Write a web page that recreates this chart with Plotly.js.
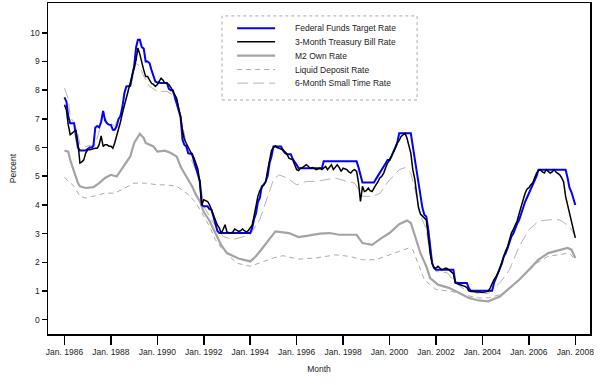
<!DOCTYPE html>
<html>
<head>
<meta charset="utf-8">
<script src="https://cdn.plot.ly/plotly-3.0.1.min.js"></script>
<style>html,body{margin:0;padding:0;background:#fff;}#chart{width:600px;height:385px;}</style>
</head>
<body>
<div id="chart"></div>
<script>
// ---------- DATA ----------
const seriesNames = ["Federal Funds Target Rate", "3-Month Treasury Bill Rate", "M2 Own Rate", "Liquid Deposit Rate", "6-Month Small Time Rate"];

// monthly, Jan 1986 .. Jan 2008
const monthlyStart = "1986-01";
const fedFunds = [
 7.75,7.6,7.1,6.85,6.85,6.85,6.4,6.0,5.9,5.9,5.9,5.9,
 5.95,6.0,6.0,6.05,6.7,6.75,6.7,6.9,7.28,6.95,6.85,6.8,
 6.79,6.62,6.62,6.74,7.0,7.1,7.43,7.9,8.13,8.15,8.15,8.5,
 8.83,9.5,9.76,9.76,9.5,9.45,9.0,9.0,8.94,8.7,8.48,8.3,
 8.27,8.25,8.25,8.25,8.25,8.25,8.05,8.0,8.0,7.8,7.55,7.3,
 7.08,6.27,6.1,6.04,5.8,5.78,5.78,5.52,5.3,5.1,4.82,4.0,
 3.95,3.95,3.95,3.85,3.83,3.6,3.3,3.1,3.02,3.02,3.02,3.02,
 3.02,3.02,3.02,3.02,3.02,3.02,3.02,3.02,3.02,3.02,3.02,3.02,
 3.02,3.2,3.5,3.7,4.1,4.24,4.65,4.7,4.82,5.0,5.46,5.69,
 6.04,6.04,6.04,6.04,6.04,5.9,5.81,5.77,5.77,5.77,5.6,5.52,
 5.4,5.28,5.28,5.28,5.28,5.28,5.28,5.28,5.28,5.28,5.28,5.28,
 5.28,5.28,5.52,5.52,5.52,5.52,5.52,5.52,5.52,5.52,5.52,5.52,
 5.52,5.52,5.52,5.52,5.52,5.52,5.52,5.52,5.3,4.99,4.78,4.78,
 4.78,4.78,4.78,4.78,4.78,4.9,5.0,5.11,5.25,5.34,5.45,5.57,
 5.57,5.7,5.86,6.0,6.16,6.5,6.5,6.5,6.5,6.5,6.5,6.5,
 6.04,5.6,5.05,4.6,4.3,3.9,3.66,3.6,3.14,2.44,1.97,1.8,
 1.74,1.74,1.74,1.74,1.74,1.74,1.74,1.74,1.74,1.74,1.3,1.28,
 1.28,1.28,1.28,1.28,1.28,1.1,1.01,1.01,1.01,1.01,1.01,1.01,
 1.01,1.01,1.01,1.01,1.01,1.01,1.28,1.45,1.6,1.75,1.95,2.2,
 2.32,2.5,2.7,2.9,3.0,3.2,3.35,3.48,3.7,3.85,4.1,4.25,
 4.4,4.55,4.65,4.8,5.0,5.23,5.23,5.23,5.23,5.23,5.23,5.23,
 5.23,5.23,5.23,5.23,5.23,5.23,5.23,5.23,4.95,4.6,4.45,4.25,
 4.0
];
const tBill = [
 7.49,7.3,6.8,6.45,6.5,6.55,6.62,6.16,5.46,5.5,5.57,5.81,
 5.92,5.92,5.95,5.96,5.98,5.98,6.1,6.41,6.04,6.1,6.1,6.05,
 6.05,5.98,6.16,6.4,6.62,6.9,7.2,7.5,7.78,8.0,8.25,8.48,
 8.8,9.06,9.47,9.25,8.94,8.7,8.48,8.48,8.35,8.24,8.2,8.13,
 8.2,8.3,8.42,8.35,8.24,8.24,8.2,8.1,7.95,7.85,7.72,7.4,
 7.08,6.6,6.3,6.15,6.0,5.86,5.75,5.63,5.4,5.25,4.76,4.0,
 4.18,4.15,4.12,4.0,3.83,3.65,3.48,3.3,3.2,3.0,3.15,3.31,
 3.05,3.02,3.02,3.05,3.16,3.12,3.08,3.1,3.16,3.1,3.06,3.1,
 3.2,3.3,3.6,4.0,4.3,4.5,4.6,4.7,4.8,5.2,5.6,5.9,
 6.0,6.06,6.0,5.98,5.94,5.92,5.85,5.78,5.63,5.6,5.57,5.4,
 5.23,5.2,5.28,5.3,5.34,5.4,5.35,5.28,5.3,5.28,5.23,5.25,
 5.28,5.23,5.3,5.34,5.23,5.3,5.4,5.23,5.3,5.4,5.3,5.17,
 5.28,5.25,5.23,5.15,5.11,5.2,5.23,5.17,4.76,4.12,4.65,4.47,
 4.5,4.59,4.5,4.47,4.6,4.7,4.8,4.94,5.0,5.11,5.3,5.46,
 5.55,5.69,5.85,5.98,6.16,6.25,6.39,6.45,6.5,6.33,6.0,5.8,
 5.23,4.9,4.4,3.9,3.68,3.6,3.55,3.48,2.9,2.3,1.97,1.8,
 1.8,1.86,1.8,1.74,1.76,1.8,1.78,1.72,1.68,1.6,1.28,1.25,
 1.22,1.2,1.18,1.16,1.12,1.0,0.98,0.99,0.97,0.96,0.96,0.95,
 0.95,0.96,0.97,0.99,1.1,1.28,1.4,1.5,1.62,1.8,2.03,2.2,
 2.4,2.55,2.8,3.02,3.15,3.3,3.45,3.7,3.95,4.2,4.4,4.55,
 4.6,4.7,4.76,4.95,5.11,5.2,5.23,5.15,5.11,5.23,5.15,5.11,
 5.15,5.23,5.15,5.1,5.05,4.94,4.8,4.3,4.0,3.73,3.4,3.1,
 2.85
];

const m2Dates = ["1986-01","1986-03","1986-04","1986-06","1986-08","1986-09","1986-12","1987-04","1987-07","1987-10","1988-01","1988-04","1988-07","1988-11","1989-01","1989-04","1989-06","1989-07","1989-11","1990-01","1990-05","1990-08","1990-11","1991-01","1991-04","1991-07","1991-09","1991-11","1992-01","1992-04","1992-07","1992-10","1993-01","1993-03","1993-07","1994-01","1994-04","1994-08","1995-02","1995-09","1996-02","1996-07","1997-01","1997-06","1997-11","1998-04","1998-08","1998-11","1999-04","1999-09","2000-01","2000-06","2000-10","2000-12","2001-03","2001-05","2001-08","2001-10","2002-02","2002-08","2003-01","2003-06","2003-11","2004-04","2004-10","2005-03","2005-08","2006-01","2006-06","2006-11","2007-05","2007-09","2007-11","2008-01"];
const m2Own = [5.9,5.86,5.57,5.2,4.76,4.65,4.59,4.62,4.76,4.94,5.05,4.99,5.28,5.69,6.16,6.48,6.33,6.16,6.04,5.86,5.89,5.81,5.69,5.34,4.99,4.65,4.35,4.12,3.75,3.45,3.02,2.6,2.32,2.25,2.13,2.03,2.21,2.55,3.08,3.02,2.88,2.93,3.0,3.02,2.96,2.96,2.96,2.67,2.61,2.85,3.02,3.33,3.46,3.37,2.79,2.32,1.86,1.45,1.22,1.1,0.93,0.76,0.67,0.64,0.81,1.1,1.39,1.74,2.09,2.32,2.44,2.5,2.44,2.15];

const liqDates = ["1986-01","1986-06","1986-09","1986-12","1987-05","1987-10","1988-03","1988-08","1989-01","1989-07","1990-01","1990-06","1990-11","1991-03","1991-06","1991-09","1992-01","1992-04","1992-07","1992-10","1993-01","1993-06","1994-01","1994-06","1995-01","1995-06","1996-02","1996-11","1997-09","1998-04","1998-11","1999-06","2000-01","2000-08","2000-11","2001-01","2001-04","2001-07","2002-01","2002-09","2003-03","2003-11","2004-04","2004-10","2005-03","2005-10","2006-05","2006-11","2007-05","2007-10","2008-01"];
const liquidDeposit = [4.96,4.65,4.3,4.24,4.32,4.41,4.41,4.59,4.76,4.76,4.7,4.7,4.65,4.47,4.3,4.07,3.6,3.25,2.79,2.5,2.3,1.97,1.86,1.97,2.15,2.23,2.11,2.15,2.26,2.21,2.09,2.09,2.26,2.45,2.5,2.44,1.9,1.39,1.05,0.99,0.87,0.76,0.76,0.87,1.05,1.51,1.97,2.21,2.26,2.32,2.09];

const stDates = ["1986-01","1986-03","1986-04","1986-06","1986-08","1986-09","1986-12","1987-05","1987-08","1987-09","1987-10","1988-03","1988-07","1988-11","1989-02","1989-04","1989-06","1989-09","1990-01","1990-06","1990-09","1991-01","1991-04","1991-07","1991-11","1992-01","1992-06","1992-11","1993-04","1993-07","1994-01","1994-06","1994-09","1995-01","1995-04","1995-08","1996-01","1996-06","1996-11","1997-04","1997-09","1998-03","1998-07","1998-11","1999-04","1999-08","2000-01","2000-03","2000-06","2000-09","2000-12","2001-03","2001-04","2001-06","2001-08","2001-10","2001-11","2002-01","2002-07","2002-11","2003-04","2003-11","2004-04","2004-10","2005-03","2005-08","2006-01","2006-06","2006-11","2007-05","2007-10","2008-01"];
const smallTime = [8.07,7.7,7.08,6.85,6.5,6.1,6.04,6.1,6.8,7.32,7.0,6.74,7.32,8.13,8.94,8.83,8.48,8.13,7.96,7.96,7.84,7.08,6.16,5.52,4.88,3.95,3.37,2.9,2.79,2.85,2.96,3.5,4.1,4.88,5.05,4.94,4.7,4.82,4.82,4.88,4.94,4.82,4.76,4.3,4.3,4.4,4.88,4.99,5.23,5.3,5.11,4.3,3.95,3.48,3.14,2.3,1.97,1.68,1.63,1.28,1.05,0.91,0.91,1.28,1.74,2.55,3.14,3.43,3.48,3.48,3.25,2.9];

const tickDates = ["1986-01-01","1988-01-01","1990-01-01","1992-01-01","1994-01-01","1996-01-01","1998-01-01","2000-01-01","2002-01-01","2004-01-01","2006-01-01","2008-01-01"];
const tickLabels = ["Jan. 1986","Jan. 1988","Jan. 1990","Jan. 1992","Jan. 1994","Jan. 1996","Jan. 1998","Jan. 2000","Jan. 2002","Jan. 2004","Jan. 2006","Jan. 2008"];
const yTicks = [0,1,2,3,4,5,6,7,8,9,10];

// ---------- BUILD ----------
function monthSeq(start, n) {
  const [y0, m0] = start.split("-").map(Number);
  const out = [];
  for (let i = 0; i < n; i++) {
    const t = (m0 - 1) + i;
    const y = y0 + Math.floor(t / 12);
    const m = (t % 12) + 1;
    out.push(y + "-" + String(m).padStart(2, "0") + "-01");
  }
  return out;
}
const fmt = d => d + "-01";
const monthly = monthSeq(monthlyStart, fedFunds.length);

const styles = [
  {color: "#0000ff", width: 2, dash: "solid"},
  {color: "#000000", width: 1.5, dash: "solid"},
  {color: "#a4a4a4", width: 2.2, dash: "solid"},
  {color: "#ababab", width: 1, dash: "5px,4px"},
  {color: "#b4b4b4", width: 1, dash: "11px,5px"}
];
const xs = [monthly, monthly, m2Dates.map(fmt), liqDates.map(fmt), stDates.map(fmt)];
const ys = [fedFunds, tBill, m2Own, liquidDeposit, smallTime];
const order = [4, 3, 2, 0, 1];
const traces = order.map(i => ({
  type: "scatter", mode: "lines", name: seriesNames[i],
  x: xs[i], y: ys[i],
  line: {color: styles[i].color, width: styles[i].width, dash: styles[i].dash},
  hoverinfo: "skip"
}));

// manual legend (paper coords)
const L = {x0: 0.321, x1: 0.681, y0: 0.707, y1: 0.961, lx0: 0.349, lx1: 0.419, tx: 0.4515,
           rows: [0.924, 0.883, 0.841, 0.799, 0.758]};
const shapes = [{type: "rect", xref: "paper", yref: "paper", x0: L.x0, x1: L.x1, y0: L.y0, y1: L.y1,
  line: {color: "#aaaaaa", width: 1, dash: "dot"}, fillcolor: "#ffffff", layer: "above"}];
const annotations = [];
seriesNames.forEach((nm, i) => {
  shapes.push({type: "line", xref: "paper", yref: "paper", x0: L.lx0, x1: L.lx1, y0: L.rows[i], y1: L.rows[i],
    line: {color: styles[i].color, width: styles[i].width, dash: styles[i].dash}, layer: "above"});
  annotations.push({xref: "paper", yref: "paper", x: L.tx, y: L.rows[i], xanchor: "left", yanchor: "middle",
    text: nm, showarrow: false, font: {size: 8.5, color: "#222"}});
});

const axisCommon = {
  showline: true, linecolor: "#000", linewidth: 1.5, mirror: true,
  ticks: "outside", tickcolor: "#000", tickwidth: 1.5,
  showgrid: false, zeroline: false, automargin: false,
  tickfont: {size: 8.5, color: "#222"}
};

const layout = {
  width: 600, height: 385,
  margin: {l: 48, r: 10, t: 3, b: 51, pad: 0},
  paper_bgcolor: "#fff", plot_bgcolor: "#fff",
  font: {family: "Liberation Sans, Arial, sans-serif", size: 8.5, color: "#222"},
  showlegend: false,
  xaxis: Object.assign({}, axisCommon, {
    type: "date", range: ["1985-04-17", "2008-08-19"],
    tickmode: "array", tickvals: tickDates, ticktext: tickLabels, ticklen: 9,
    title: {text: "Month", font: {size: 8.5, color: "#222"}, standoff: 10}
  }),
  yaxis: Object.assign({}, axisCommon, {
    range: [-0.5, 11.04], tickmode: "array", tickvals: yTicks, ticktext: yTicks.map(String), ticklen: 5,
    title: {text: "Percent", font: {size: 8.5, color: "#222"}, standoff: 12}
  }),
  shapes: shapes,
  annotations: annotations
};

Plotly.newPlot("chart", traces, layout, {staticPlot: true, displayModeBar: false});
</script>
</body>
</html>
